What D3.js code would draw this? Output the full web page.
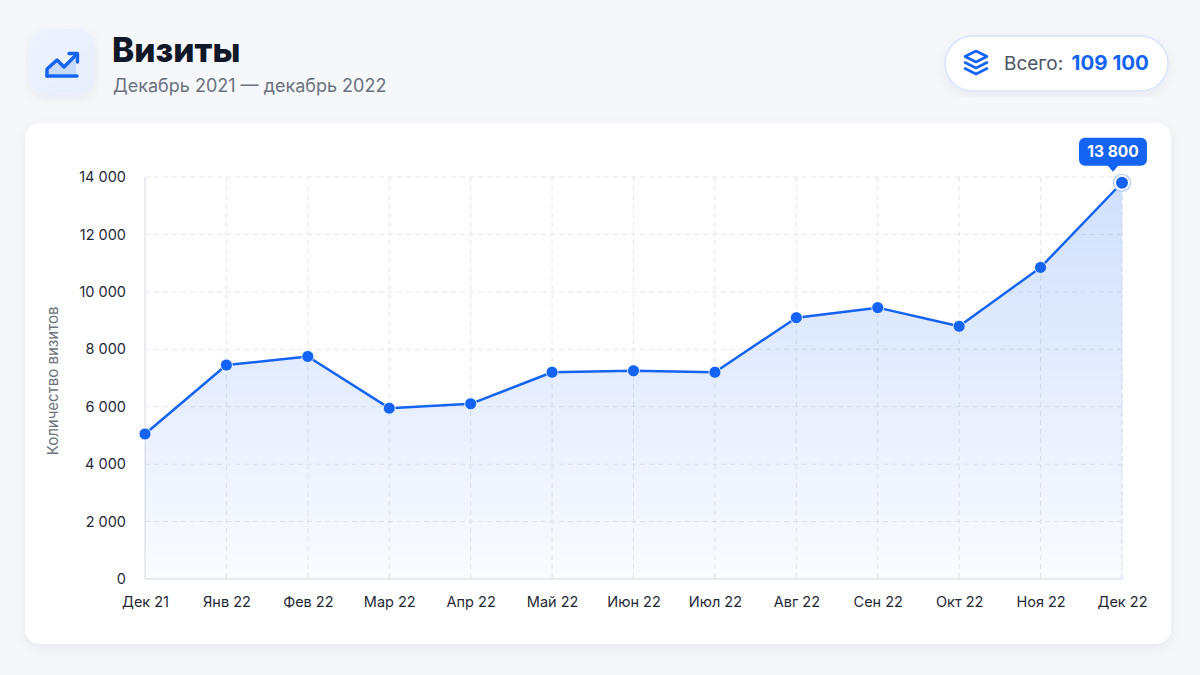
<!DOCTYPE html>
<html lang="ru">
<head>
<meta charset="utf-8">
<title>Визиты</title>
<script src="https://cdn.jsdelivr.net/npm/d3@7"></script>
<style>
  html, body { margin: 0; padding: 0; background: #f6f7fb; }
  svg { display: block; font-family: Inter, "Noto Sans", sans-serif; }
</style>
</head>
<body>
<svg id="root" width="1200" height="675"></svg>
<script>
const months = ['Дек 21', 'Янв 22', 'Фев 22', 'Мар 22', 'Апр 22', 'Май 22', 'Июн 22',
  'Июл 22', 'Авг 22', 'Сен 22', 'Окт 22', 'Ноя 22', 'Дек 22'];
const visits = [5050, 7450, 7750, 5950, 6100, 7200, 7250, 7200, 9100, 9450, 8800, 10850, 13800];
const yTicks = [0, 2000, 4000, 6000, 8000, 10000, 12000, 14000];
const totalVisits = 109100;

const blue = '#1463f3';
const fmtSpace = v => d3.format(',')(v).replace(/,/g, ' ');

const svg = d3.select('#root');
const defs = svg.append('defs');

// shadows + gradients
const sh = defs.append('filter').attr('id', 'shadow')
  .attr('x', '-5%').attr('y', '-5%').attr('width', '110%').attr('height', '115%');
sh.append('feDropShadow').attr('dx', 0).attr('dy', 4).attr('stdDeviation', 6)
  .attr('flood-color', '#1d2b55').attr('flood-opacity', 0.06);

const areaGrad = defs.append('linearGradient').attr('id', 'areaGrad')
  .attr('x1', 0).attr('y1', 0).attr('x2', 0).attr('y2', 1);
areaGrad.append('stop').attr('offset', '0%').attr('stop-color', '#3b7cf5').attr('stop-opacity', 0.24);
areaGrad.append('stop').attr('offset', '100%').attr('stop-color', '#3b7cf5').attr('stop-opacity', 0.03);

const tileGrad = defs.append('linearGradient').attr('id', 'tileGrad')
  .attr('x1', 0).attr('y1', 0).attr('x2', 1).attr('y2', 1);
tileGrad.append('stop').attr('offset', '0%').attr('stop-color', '#eef3fd');
tileGrad.append('stop').attr('offset', '100%').attr('stop-color', '#e6eefc');

// header
const head = svg.append('g');
head.append('rect').attr('x', 29).attr('y', 29).attr('width', 66).attr('height', 66)
  .attr('rx', 18).attr('fill', 'url(#tileGrad)').attr('filter', 'url(#shadow)');
const ico = head.append('g').attr('transform', 'translate(44,46)');
ico.append('path').attr('d', 'M4,28 L4,24 L13,14 L20,21 L32,9 L32,28 Z')
  .attr('fill', '#c9dbfb');
ico.append('path').attr('d', 'M3,30 L3,23 L13,14 L20,21 L33,8')
  .attr('fill', 'none').attr('stroke', blue).attr('stroke-width', 3.4)
  .attr('stroke-linecap', 'round').attr('stroke-linejoin', 'round');
ico.append('path').attr('d', 'M3,30 L33,30')
  .attr('stroke', blue).attr('stroke-width', 3.4).attr('stroke-linecap', 'round');
ico.append('path').attr('d', 'M25,7.5 L33.5,7.5 L33.5,16')
  .attr('fill', 'none').attr('stroke', blue).attr('stroke-width', 3.4)
  .attr('stroke-linecap', 'round').attr('stroke-linejoin', 'round');

head.append('text').attr('x', 112).attr('y', 62).attr('font-size', 33.5).attr('font-weight', 800)
  .attr('fill', '#111827').text('Визиты');
head.append('text').attr('x', 113).attr('y', 92).attr('font-size', 18).attr('fill', '#6b7280')
  .text('Декабрь 2021 — декабрь 2022');

// total badge
const badge = svg.append('g');
badge.append('rect').attr('x', 945).attr('y', 36).attr('width', 223).attr('height', 55)
  .attr('rx', 27.5).attr('fill', '#fff').attr('stroke', '#d8e4fb').attr('stroke-width', 1.5)
  .attr('filter', 'url(#shadow)');
const layers = badge.append('g').attr('transform', 'translate(976,63)')
  .attr('fill', 'none').attr('stroke', blue).attr('stroke-width', 2.6)
  .attr('stroke-linejoin', 'round').attr('stroke-linecap', 'round');
layers.append('path').attr('d', 'M0,-12 L11,-6.5 L0,-1 L-11,-6.5 Z');
layers.append('path').attr('d', 'M-11,-0.5 L0,5 L11,-0.5');
layers.append('path').attr('d', 'M-11,5.5 L0,11 L11,5.5');
const badgeText = badge.append('text').attr('x', 1004).attr('y', 70).attr('font-size', 19);
badgeText.append('tspan').attr('fill', '#4b5563').text('Всего: ');
badgeText.append('tspan').attr('fill', blue).attr('font-weight', 700).attr('font-size', 20.5)
  .attr('dx', 3).text(fmtSpace(totalVisits));

// card
svg.append('rect').attr('x', 25).attr('y', 123).attr('width', 1146).attr('height', 521)
  .attr('rx', 15).attr('fill', '#fff').attr('filter', 'url(#shadow)');

// chart
const x = d3.scalePoint().domain(months).range([145, 1122]);
const y = d3.scaleLinear().domain([0, 14000]).range([579, 177]);

const g = svg.append('g');

// grid
g.selectAll('.hgrid').data(yTicks.filter(d => d > 0)).join('line')
  .attr('class', 'hgrid')
  .attr('x1', x.range()[0]).attr('x2', x.range()[1])
  .attr('y1', d => y(d)).attr('y2', d => y(d))
  .attr('stroke', '#e4e7ec').attr('stroke-dasharray', '5,4');
g.selectAll('.vgrid').data(months.slice(1)).join('line')
  .attr('class', 'vgrid')
  .attr('x1', d => x(d)).attr('x2', d => x(d))
  .attr('y1', y(14000)).attr('y2', y(0))
  .attr('stroke', '#e4e7ec').attr('stroke-dasharray', '5,4');

// axes
const yAxis = g.append('g').attr('transform', `translate(${x.range()[0]},0)`)
  .call(d3.axisLeft(y).tickValues(yTicks).tickFormat(fmtSpace).tickSize(0).tickPadding(19));
yAxis.select('.domain').attr('stroke', '#e3e6ec').attr('stroke-width', 1.5)
  .attr('d', `M0,${y(14000)}V${y(0)}`);
yAxis.selectAll('text').attr('font-size', 14.5).attr('fill', '#1f2937')
  .attr('font-family', 'Inter, "Noto Sans", sans-serif');

const xAxis = g.append('g').attr('transform', `translate(0,${y(0)})`)
  .call(d3.axisBottom(x).tickSize(0).tickPadding(18));
xAxis.select('.domain').attr('stroke', '#e3e6ec').attr('stroke-width', 1.5)
  .attr('d', `M${x.range()[0]},0H${x.range()[1]}`);
xAxis.selectAll('text').attr('font-size', 14.5).attr('fill', '#1f2937')
  .attr('font-family', 'Inter, "Noto Sans", sans-serif');

g.append('text').attr('transform', `translate(58,${y(7000) + 3}) rotate(-90)`)
  .attr('text-anchor', 'middle').attr('font-size', 15).attr('fill', '#6b7280')
  .text('Количество визитов');

// area + line
const pts = months.map((m, i) => ({ m, v: visits[i] }));
g.append('path').datum(pts)
  .attr('fill', 'url(#areaGrad)')
  .attr('d', d3.area().x(d => x(d.m)).y0(y(0)).y1(d => y(d.v)));
g.append('path').datum(pts)
  .attr('fill', 'none').attr('stroke', blue).attr('stroke-width', 2.5)
  .attr('stroke-linejoin', 'round')
  .attr('d', d3.line().x(d => x(d.m)).y(d => y(d.v)));

const last = pts[pts.length - 1];
g.append('line').attr('x1', x(last.m)).attr('x2', x(last.m))
  .attr('y1', y(last.v)).attr('y2', y(0))
  .attr('stroke', '#cfdcf5').attr('stroke-dasharray', '4,3');

g.selectAll('.pt').data(pts.slice(0, -1)).join('circle')
  .attr('class', 'pt')
  .attr('cx', d => x(d.m)).attr('cy', d => y(d.v)).attr('r', 6)
  .attr('fill', blue).attr('stroke', '#fff').attr('stroke-width', 0.8);

// highlighted last point
g.append('circle').attr('cx', x(last.m)).attr('cy', y(last.v)).attr('r', 8.5)
  .attr('fill', '#fff').attr('stroke', '#a9c6fb').attr('stroke-width', 1.2);
g.append('circle').attr('cx', x(last.m)).attr('cy', y(last.v)).attr('r', 6)
  .attr('fill', blue);

// tooltip
const tx = x(last.m) - 9, ty = y(last.v) - 45;
const tip = g.append('g').attr('transform', `translate(${tx},${ty})`);
tip.append('rect').attr('x', -34).attr('y', 0).attr('width', 68).attr('height', 28)
  .attr('rx', 6).attr('fill', blue);
tip.append('path').attr('d', 'M-6,27 L0,34 L6,27 Z').attr('fill', blue);
tip.append('text').attr('x', 0).attr('y', 19.5).attr('text-anchor', 'middle')
  .attr('font-size', 15.5).attr('font-weight', 700).attr('fill', '#fff')
  .text(fmtSpace(last.v));
</script>
</body>
</html>
